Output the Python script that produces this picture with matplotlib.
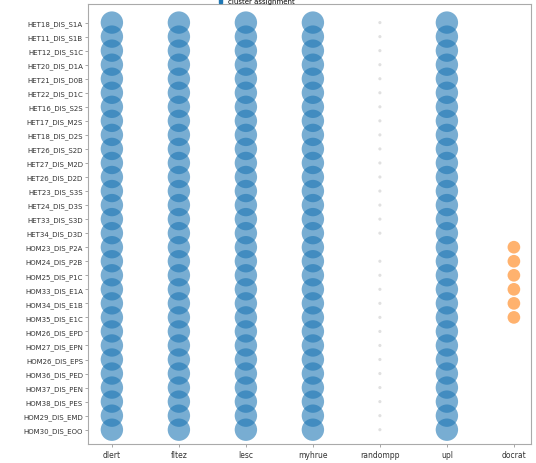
import numpy as np
import matplotlib
matplotlib.use("Agg")
import matplotlib.pyplot as plt

samples = [
    "HET18_DIS_S1A", "HET11_DIS_S1B", "HET12_DIS_S1C", "HET20_DIS_D1A",
    "HET21_DIS_D0B", "HET22_DIS_D1C", "HET16_DIS_S2S", "HET17_DIS_M2S",
    "HET18_DIS_D2S", "HET26_DIS_S2D", "HET27_DIS_M2D", "HET26_DIS_D2D",
    "HET23_DIS_S3S", "HET24_DIS_D3S", "HET33_DIS_S3D", "HET34_DIS_D3D",
    "HOM23_DIS_P2A", "HOM24_DIS_P2B", "HOM25_DIS_P1C", "HOM33_DIS_E1A",
    "HOM34_DIS_E1B", "HOM35_DIS_E1C", "HOM26_DIS_EPD", "HOM27_DIS_EPN",
    "HOM26_DIS_EPS", "HOM36_DIS_PED", "HOM37_DIS_PEN", "HOM38_DIS_PES",
    "HOM29_DIS_EMD", "HOM30_DIS_EOO",
]
methods = ["dlert", "fltez", "lesc", "myhrue", "randompp", "upl", "docrat"]

n = len(samples)
dlert = [1.0] * n
fltez = [1.0] * n
lesc = [1.0] * n
myhrue = [1.0] * n
randompp = [0.02] * 16 + [0.0] + [0.02] * 13
upl = [1.0] * n
docrat = [0.0] * 16 + [0.32] * 6 + [0.0] * 8

scores = [dlert, fltez, lesc, myhrue, randompp, upl, docrat]
colors = ["#1f77b4", "#1f77b4", "#1f77b4", "#1f77b4", "#cccccc", "#1f77b4", "#ff7f0e"]

fig = plt.figure(figsize=(5.36, 4.64), dpi=100)
ax = fig.add_axes([0.165, 0.04, 0.825, 0.95])

for j, (vals, c) in enumerate(zip(scores, colors)):
    vals = np.array(vals)
    ys = np.arange(n)
    keep = vals > 0
    ax.scatter(np.full(keep.sum(), j), ys[keep], s=vals[keep] * 260,
               color=c, alpha=0.6, linewidths=0)

ax.set_xticks(range(len(methods)))
ax.set_xticklabels(methods, fontsize=5.5, color="#333333")
ax.set_yticks(range(n))
ax.set_yticklabels(samples, fontsize=5, color="#333333")
ax.set_xlim(-0.35, 6.25)
ax.set_ylim(n - 1 + 1.05, -1.35)
ax.tick_params(length=2, width=0.6, colors="#999999", labelcolor="#333333", pad=2)
for sp in ax.spines.values():
    sp.set_color("#aaaaaa")
    sp.set_linewidth(0.8)

ax.legend(handles=[plt.Rectangle((0, 0), 1, 1, color="#1f77b4")],
          labels=["cluster assignment"], loc="lower center",
          bbox_to_anchor=(0.38, 0.99), fontsize=5, frameon=False,
          handlelength=0.5, handleheight=0.8, borderpad=0.1)

fig.savefig("out.png", dpi=100)
